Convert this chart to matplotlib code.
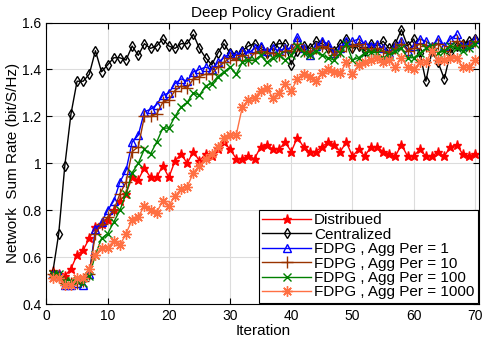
import numpy as np
import matplotlib
matplotlib.use("Agg")
import matplotlib.pyplot as plt

plt.rcParams['font.family'] = ['Liberation Sans', 'DejaVu Sans']

iteration = np.arange(1, 71)

distributed = [0.54, 0.53, 0.52, 0.55, 0.61, 0.63, 0.68, 0.73, 0.74, 0.76,
               0.80, 0.84, 0.87, 0.94, 0.93, 0.98, 0.94, 0.94, 0.99, 0.94,
               1.01, 1.04, 1.00, 1.05, 1.01, 1.04, 1.03, 1.06, 1.09, 1.06,
               1.02, 1.02, 1.03, 1.02, 1.07, 1.08, 1.06, 1.06, 1.09, 1.05,
               1.11, 1.07, 1.05, 1.05, 1.07, 1.09, 1.08, 1.05, 1.09, 1.03,
               1.06, 1.03, 1.07, 1.07, 1.05, 1.04, 1.03, 1.08, 1.03, 1.03,
               1.06, 1.03, 1.03, 1.05, 1.03, 1.07, 1.08, 1.04, 1.03, 1.04]

centralized = [0.53, 0.70, 0.99, 1.21, 1.35, 1.35, 1.38, 1.48, 1.39, 1.42,
               1.45, 1.45, 1.44, 1.50, 1.46, 1.51, 1.49, 1.50, 1.53, 1.50,
               1.49, 1.51, 1.51, 1.55, 1.49, 1.45, 1.42, 1.47, 1.51, 1.47,
               1.46, 1.48, 1.50, 1.51, 1.49, 1.47, 1.50, 1.51, 1.51, 1.42,
               1.48, 1.50, 1.49, 1.52, 1.51, 1.49, 1.48, 1.51, 1.53, 1.49,
               1.50, 1.48, 1.51, 1.50, 1.52, 1.49, 1.51, 1.57, 1.50, 1.53,
               1.47, 1.35, 1.48, 1.43, 1.36, 1.47, 1.50, 1.51, 1.52, 1.53]

agg1 = [0.53, 0.53, 0.48, 0.48, 0.49, 0.48, 0.53, 0.72, 0.75, 0.80,
        0.84, 0.92, 0.97, 1.09, 1.12, 1.22, 1.23, 1.25, 1.29, 1.30,
        1.34, 1.36, 1.35, 1.39, 1.40, 1.41, 1.40, 1.43, 1.45, 1.47,
        1.46, 1.48, 1.47, 1.49, 1.50, 1.48, 1.49, 1.48, 1.49, 1.49,
        1.54, 1.49, 1.46, 1.50, 1.52, 1.51, 1.47, 1.49, 1.52, 1.52,
        1.53, 1.51, 1.50, 1.51, 1.49, 1.47, 1.50, 1.52, 1.48, 1.50,
        1.53, 1.52, 1.50, 1.53, 1.50, 1.53, 1.55, 1.50, 1.51, 1.53]

agg10 = [0.53, 0.52, 0.49, 0.49, 0.49, 0.50, 0.53, 0.70, 0.74, 0.77,
         0.80, 0.87, 0.92, 1.05, 1.07, 1.20, 1.20, 1.21, 1.26, 1.27,
         1.31, 1.33, 1.32, 1.36, 1.37, 1.38, 1.38, 1.41, 1.43, 1.45,
         1.44, 1.46, 1.44, 1.47, 1.48, 1.47, 1.47, 1.46, 1.48, 1.48,
         1.51, 1.48, 1.47, 1.49, 1.50, 1.49, 1.46, 1.48, 1.50, 1.50,
         1.51, 1.49, 1.48, 1.49, 1.48, 1.47, 1.49, 1.51, 1.48, 1.49,
         1.51, 1.50, 1.49, 1.51, 1.48, 1.50, 1.52, 1.50, 1.50, 1.52]

agg100 = [0.53, 0.53, 0.50, 0.50, 0.50, 0.49, 0.52, 0.61, 0.68, 0.70,
          0.75, 0.80, 0.87, 0.96, 1.00, 1.06, 1.04, 1.09, 1.15, 1.15,
          1.20, 1.24, 1.26, 1.30, 1.29, 1.33, 1.34, 1.37, 1.39, 1.41,
          1.38, 1.43, 1.44, 1.44, 1.46, 1.43, 1.45, 1.46, 1.44, 1.46,
          1.50, 1.47, 1.46, 1.48, 1.46, 1.45, 1.44, 1.47, 1.51, 1.44,
          1.45, 1.47, 1.475, 1.47, 1.45, 1.46, 1.48, 1.49, 1.45, 1.45,
          1.47, 1.49, 1.50, 1.47, 1.48, 1.50, 1.49, 1.48, 1.49, 1.51]

agg1000 = [0.51, 0.51, 0.48, 0.48, 0.51, 0.51, 0.55, 0.61, 0.64, 0.64,
           0.67, 0.65, 0.70, 0.76, 0.77, 0.82, 0.80, 0.79, 0.84, 0.82,
           0.86, 0.89, 0.90, 0.96, 0.99, 1.02, 1.04, 1.07, 1.11, 1.12,
           1.12, 1.24, 1.27, 1.28, 1.31, 1.32, 1.28, 1.30, 1.34, 1.31,
           1.36, 1.38, 1.37, 1.35, 1.385, 1.40, 1.39, 1.385, 1.43, 1.38,
           1.42, 1.43, 1.44, 1.45, 1.43, 1.44, 1.41, 1.45, 1.41, 1.40,
           1.43, 1.43, 1.48, 1.44, 1.44, 1.45, 1.45, 1.41, 1.41, 1.44]

fig = plt.figure(figsize=(4.84, 3.42), dpi=100)
ax = fig.add_axes([0.096, 0.111, 0.894, 0.823])

ax.plot(iteration, distributed, color='red', marker='*', ms=6.5, lw=1,
        label='Distribued')
ax.plot(iteration, centralized, color='black', marker='d', ms=5.5, mfc='none', lw=1,
        label='Centralized')
ax.plot(iteration, agg1, color='blue', marker='^', ms=5.5, mfc='none', lw=1,
        label='FDPG , Agg Per = 1')
ax.plot(iteration, agg10, color='#993300', marker='+', ms=8, lw=1,
        label='FDPG , Agg Per = 10')
ax.plot(iteration, agg100, color='#008000', marker='x', ms=5.5, lw=1,
        label='FDPG , Agg Per = 100')
ax.plot(iteration, agg1000, color='#FF7043', marker=(8, 2, 0), ms=7.5, lw=1,
        label='FDPG , Agg Per = 1000')

ax.set_xlim(0, 70.7)
ax.set_ylim(0.4, 1.6)
ax.set_xticks(np.arange(0, 71, 10))
ax.set_yticks([0.4, 0.6, 0.8, 1.0, 1.2, 1.4, 1.6])
ax.set_yticklabels(['0.4', '0.6', '0.8', '1', '1.2', '1.4', '1.6'])
ax.tick_params(direction='in', top=True, right=True, labelsize=10, length=4)
ax.grid(True, color='#dcdcdc', lw=0.8)
ax.set_axisbelow(True)

ax.set_title('Deep Policy Gradient', fontsize=11, pad=4)
ax.set_xlabel('Iteration', fontsize=11, labelpad=1)
ax.set_ylabel('Network  Sum Rate (bit/S/Hz)', fontsize=11, labelpad=2)

leg = ax.legend(loc='lower right', fontsize=11, fancybox=False, framealpha=1,
                edgecolor='black', borderpad=0.2, labelspacing=0.03,
                handlelength=3.2, handletextpad=0.2, borderaxespad=0.1)
leg.get_frame().set_linewidth(0.8)

fig.savefig('out.png', dpi=100)
